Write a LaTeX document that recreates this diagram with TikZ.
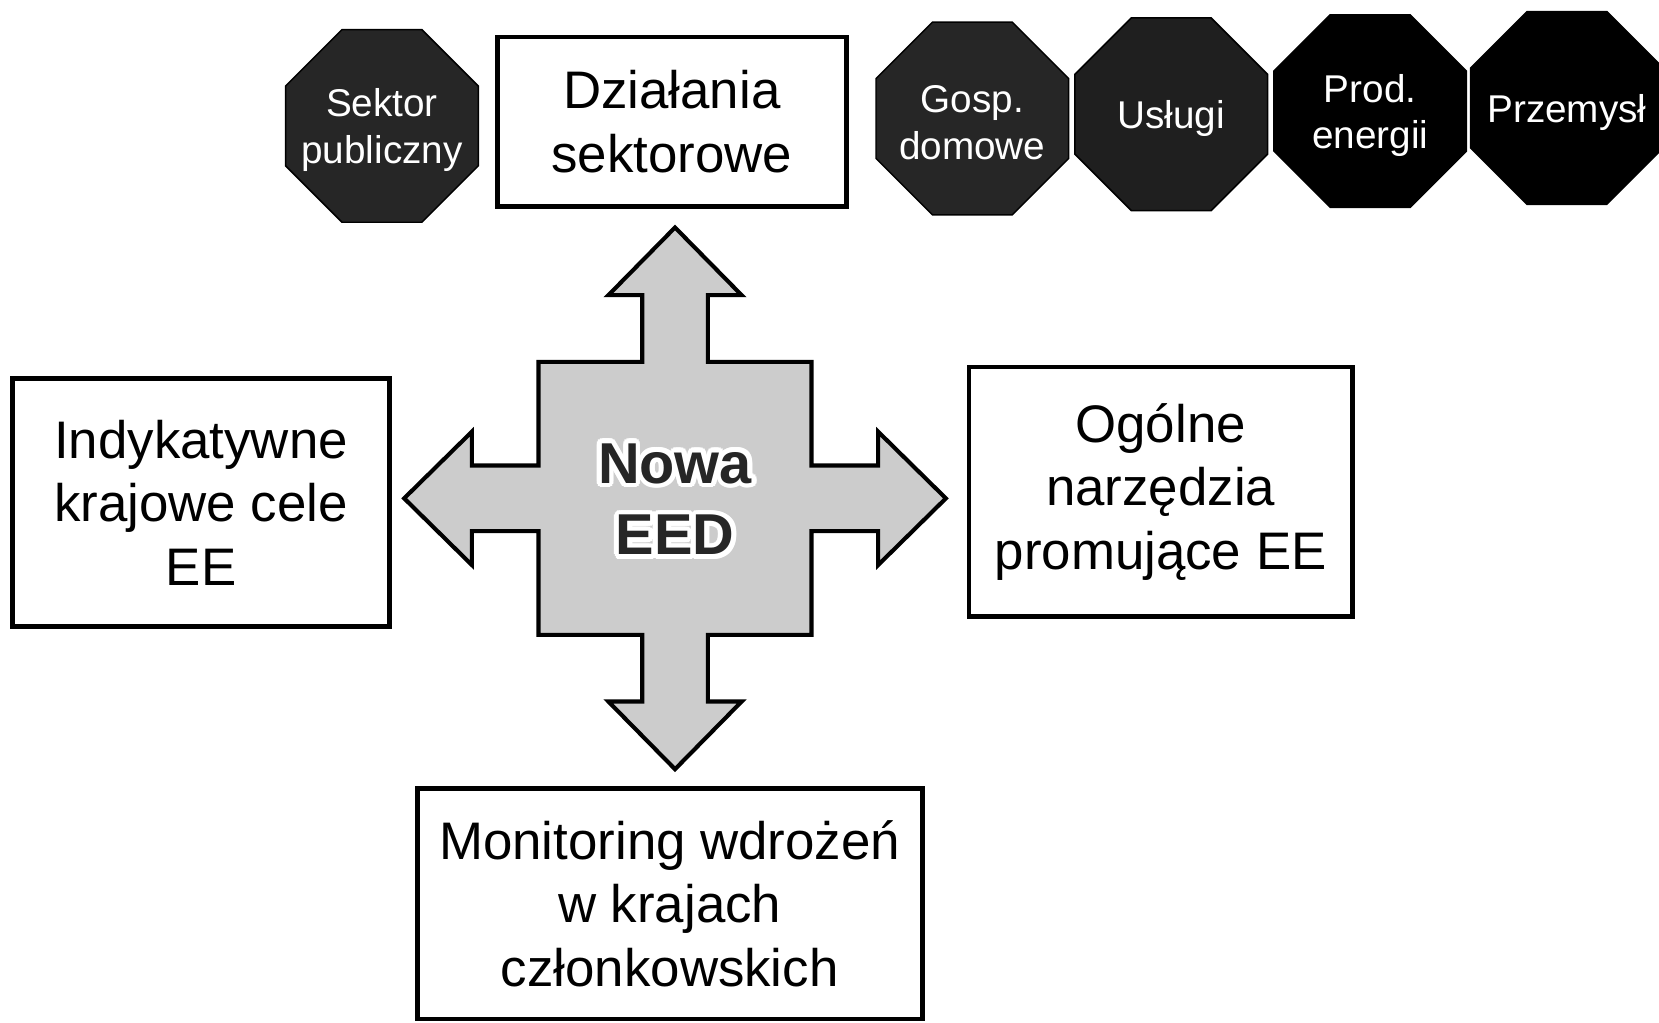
\documentclass[tikz,border=0pt]{standalone}
\usepackage{fontspec}
\setmainfont{Liberation Sans}
\usepackage{contour}
\contourlength{1.3pt}
\usetikzlibrary{shapes.geometric}
\tikzset{
  box/.style={draw, line width=1.3pt, fill=white, align=center, inner sep=2pt, font=\fontsize{14.2}{17.1}\selectfont},
  sector text/.style={text=white, align=center, inner sep=0pt, yshift=-0.04cm, font=\fontsize{10.4}{12.5}\selectfont},
  sector/.style={regular polygon, regular polygon sides=8, minimum size=1.97cm, inner sep=0pt, fill=black!85, draw=black,
    label={[sector text]center:#1}},
  cross/.style={draw, line width=1.1pt, fill=black!20, line join=miter},
  core/.style={align=center, text=black!85, font=\fontsize{15.5}{19.3}\selectfont\bfseries}
}

\begin{document}
\begin{tikzpicture}[x=0.01cm, y=-0.01cm]
  \useasboundingbox (0,0) rectangle (1568,966);

  % --- TOP ROW: SECTORS ---
  \node[sector={Sektor\\publiczny}] (publ) at (361,119) {};
  \node[box, minimum width=3.3cm, minimum height=1.6cm] (dzial) at (635,115) {Działania\\sektorowe};
  \node[sector={Gosp.\\domowe}] (gosp) at (919,112) {};
  \node[sector={Usługi}, fill=black!88] (uslugi) at (1107,108) {};
  \node[sector={Prod.\\energii}, fill=black] (prod) at (1295,105) {};
  \node[sector={Przemysł}, fill=black] (przem) at (1481,102) {};

  % --- CENTRE: FOUR-WAY ARROW ---
  \begin{scope}[shift={(638,471)}]
    \draw[cross] (0,-256) -- (63,-192) -- (31,-192) -- (31,-129) -- (129,-129) -- (129,-31)
      -- (192,-31) -- (192,-63) -- (256,0) -- (192,63) -- (192,31) -- (129,31)
      -- (129,129) -- (31,129) -- (31,192) -- (63,192) -- (0,256) -- (-63,192)
      -- (-31,192) -- (-31,129) -- (-129,129) -- (-129,31) -- (-192,31) -- (-192,63)
      -- (-256,0) -- (-192,-63) -- (-192,-31) -- (-129,-31) -- (-129,-129) -- (-31,-129)
      -- (-31,-192) -- (-63,-192) -- cycle;
  \end{scope}
  \node[core] (eed) at (638,474) {\contour{white}{Nowa}\\\contour{white}{EED}};

  % --- SIDE AND BOTTOM BOXES ---
  \node[box, minimum width=3.56cm, minimum height=2.34cm] (cele) at (190,475) {Indykatywne\\krajowe cele\\EE};
  \node[box, minimum width=3.62cm, minimum height=2.36cm] (ogolne) at (1097,465) {Ogólne\\narzędzia\\promujące EE};
  \node[box, minimum width=4.77cm, minimum height=2.18cm] (monit) at (633,854) {Monitoring wdrożeń\\w krajach\\członkowskich};

\end{tikzpicture}
\end{document}
